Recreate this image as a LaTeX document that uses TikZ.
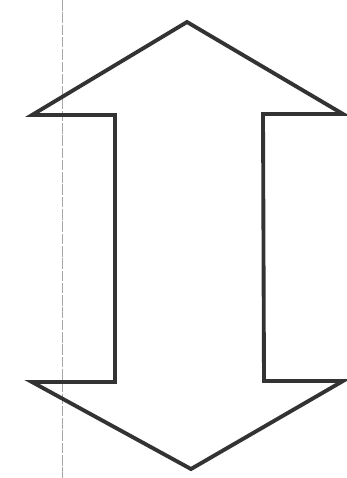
\documentclass[tikz,border=0pt]{standalone}
\usepackage{tikz}
\usetikzlibrary{calc}

\begin{document}
\begin{tikzpicture}[
  x=0.02cm, y=-0.02cm,
  outline/.style={draw=black!80, line width=2.2pt, line join=miter},
  guide/.style={draw=black!35, line width=0.5pt, dash pattern=on 6pt off 1pt}
]
\useasboundingbox (0,0) rectangle (346,478);

% guide line
\coordinate (guide_top) at (62,0);
\coordinate (guide_bot) at (62,478);
\draw[guide] (guide_top) -- (guide_bot);

% double arrow outline
\coordinate (tip_top) at (187,22);
\coordinate (head_tr) at (343,114);
\coordinate (shaft_tr) at (263,114);
\coordinate (shaft_br) at (264,381);
\coordinate (head_br) at (343,381);
\coordinate (tip_bot) at (191,469);
\coordinate (head_bl) at (32,382);
\coordinate (shaft_bl) at (115,382);
\coordinate (shaft_tl) at (115,115);
\coordinate (head_tl) at (32,115);

\draw[outline] (tip_top) -- (head_tr) -- (shaft_tr) -- (shaft_br) -- (head_br)
  -- (tip_bot) -- (head_bl) -- (shaft_bl) -- (shaft_tl) -- (head_tl) -- cycle;

\end{tikzpicture}
\end{document}
